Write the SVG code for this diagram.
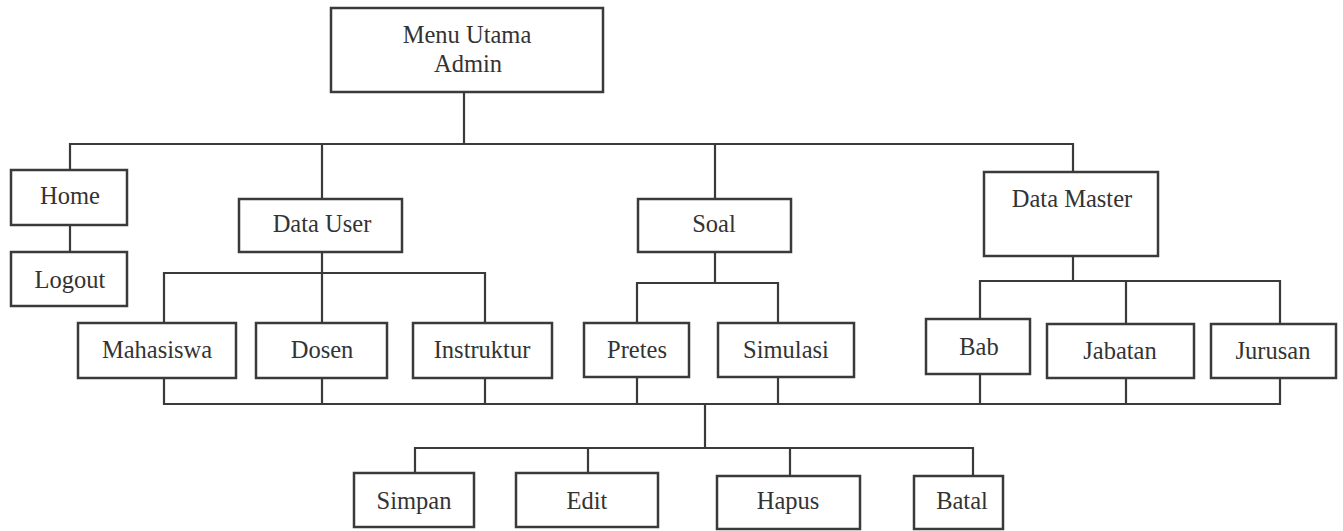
<svg xmlns="http://www.w3.org/2000/svg" width="1343" height="531" viewBox="0 0 1343 531">
  <style>
    .box { fill: #ffffff; stroke: #3a3a3a; stroke-width: 2.5; }
    .lbl { font-family: "Liberation Serif", "Times New Roman", serif; font-size: 24.5px; fill: #333333; text-anchor: middle; }
    .wire { fill: none; stroke: #3a3a3a; stroke-width: 2.2; }
  </style>
  <rect width="1343" height="531" fill="#ffffff"/>

  <!-- connectors -->
  <g id="connectors" class="wire">
    <!-- root to first level -->
    <path d="M464 92 V144"/>
    <path d="M70 170 V144 H1073 V172"/>
    <path d="M322 144 V199"/>
    <path d="M715 144 V199"/>
    <path d="M70 225 V252"/>
    <!-- Data User children -->
    <path d="M322 252 V273"/>
    <path d="M164 323 V273 H485 V323"/>
    <path d="M322 273 V323"/>
    <!-- Soal children -->
    <path d="M715 252 V283"/>
    <path d="M637 323 V283 H778 V323"/>
    <!-- Data Master children -->
    <path d="M1073 256 V281"/>
    <path d="M980 319 V281 H1280 V324"/>
    <path d="M1126 281 V324"/>
    <!-- shared action bus -->
    <path d="M164 378 V404 H1280 V378"/>
    <path d="M322 378 V404"/>
    <path d="M485 378 V404"/>
    <path d="M637 377 V404"/>
    <path d="M778 377 V404"/>
    <path d="M980 374 V404"/>
    <path d="M1126 378 V404"/>
    <path d="M705 404 V448"/>
    <path d="M415 473 V448 H973 V476"/>
    <path d="M588 448 V473"/>
    <path d="M790 448 V476"/>
  </g>

  <!-- nodes -->
  <g id="menu-utama">
    <rect class="box" x="331" y="8" width="272" height="84"/>
    <text class="lbl" x="467" y="43">Menu Utama</text>
    <text class="lbl" x="468" y="72">Admin</text>
  </g>
  <g id="home">
    <rect class="box" x="11" y="170" width="116" height="55"/>
    <text class="lbl" x="70" y="204">Home</text>
  </g>
  <g id="logout">
    <rect class="box" x="11" y="252" width="116" height="54"/>
    <text class="lbl" x="70" y="288">Logout</text>
  </g>
  <g id="data-user">
    <rect class="box" x="239" y="199" width="163" height="53"/>
    <text class="lbl" x="322" y="232">Data User</text>
  </g>
  <g id="soal">
    <rect class="box" x="638" y="199" width="153" height="53"/>
    <text class="lbl" x="714" y="232">Soal</text>
  </g>
  <g id="data-master">
    <rect class="box" x="984" y="172" width="174" height="84"/>
    <text class="lbl" x="1072" y="207">Data Master</text>
  </g>
  <g id="mahasiswa">
    <rect class="box" x="78" y="323" width="158" height="55"/>
    <text class="lbl" x="157" y="358">Mahasiswa</text>
  </g>
  <g id="dosen">
    <rect class="box" x="256" y="323" width="131" height="55"/>
    <text class="lbl" x="322" y="358">Dosen</text>
  </g>
  <g id="instruktur">
    <rect class="box" x="413" y="323" width="139" height="55"/>
    <text class="lbl" x="482" y="358">Instruktur</text>
  </g>
  <g id="pretes">
    <rect class="box" x="584" y="323" width="105" height="54"/>
    <text class="lbl" x="637" y="358">Pretes</text>
  </g>
  <g id="simulasi">
    <rect class="box" x="718" y="323" width="136" height="54"/>
    <text class="lbl" x="786" y="358">Simulasi</text>
  </g>
  <g id="bab">
    <rect class="box" x="926" y="319" width="104" height="55"/>
    <text class="lbl" x="979" y="355">Bab</text>
  </g>
  <g id="jabatan">
    <rect class="box" x="1047" y="324" width="147" height="54"/>
    <text class="lbl" x="1120" y="359">Jabatan</text>
  </g>
  <g id="jurusan">
    <rect class="box" x="1211" y="324" width="125" height="54"/>
    <text class="lbl" x="1273" y="359">Jurusan</text>
  </g>
  <g id="simpan">
    <rect class="box" x="354" y="473" width="120" height="54"/>
    <text class="lbl" x="414" y="509">Simpan</text>
  </g>
  <g id="edit">
    <rect class="box" x="516" y="473" width="142" height="54"/>
    <text class="lbl" x="587" y="509">Edit</text>
  </g>
  <g id="hapus">
    <rect class="box" x="717" y="476" width="143" height="53"/>
    <text class="lbl" x="788" y="509">Hapus</text>
  </g>
  <g id="batal">
    <rect class="box" x="914" y="476" width="89" height="53"/>
    <text class="lbl" x="962" y="509">Batal</text>
  </g>
</svg>
